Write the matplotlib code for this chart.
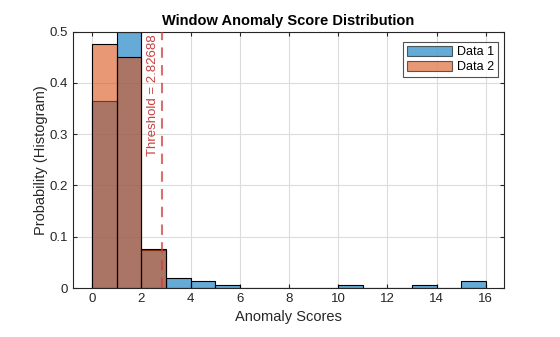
import numpy as np
import matplotlib
matplotlib.use("Agg")
import matplotlib.pyplot as plt

plt.rcParams['font.family'] = ['Liberation Sans', 'DejaVu Sans']

# bin edges (width 1) and probabilities
bin_left = [0, 1, 2, 3, 4, 5, 6, 7, 8, 9, 10, 11, 12, 13, 14, 15]
data1 = [0.365, 0.50, 0.075, 0.019, 0.013, 0.0065, 0, 0, 0, 0, 0.0065, 0, 0, 0.0065, 0, 0.013]
data2 = [0.475, 0.45, 0.076, 0, 0, 0, 0, 0, 0, 0, 0, 0, 0, 0, 0, 0]
threshold = 2.82688

blue = (0, 0.447, 0.741)
orange = (0.85, 0.325, 0.098)

fig = plt.figure(figsize=(5.6, 3.37), dpi=100)
ax = fig.add_axes([0.1304, 0.1454, 0.7696, 0.7606])

ax.bar(bin_left, data1, width=1, align='edge', color=blue, alpha=0.6,
       edgecolor='none', label='Data 1', zorder=2)
ax.bar(bin_left, data1, width=1, align='edge', fill=False, edgecolor='black',
       linewidth=0.8, zorder=2)
ax.bar(bin_left[:3], data2[:3], width=1, align='edge', color=orange, alpha=0.6,
       edgecolor='none', label='Data 2', zorder=3)
ax.bar(bin_left[:3], data2[:3], width=1, align='edge', fill=False, edgecolor='black',
       linewidth=0.8, zorder=3)

ax.axvline(threshold, color=(0.8, 0.25, 0.25), linestyle=(0, (5, 3.5)), linewidth=1.5,
           alpha=0.75, zorder=4)
ax.text(threshold - 0.12, 0.495, 'Threshold = 2.82688', rotation=90, ha='right', va='top',
        color=(0.78, 0.25, 0.25), fontsize=9.5, zorder=5)

ax.set_xlim(-0.78, 16.74)
ax.set_ylim(0, 0.5)
ax.set_xticks(range(0, 17, 2))
ax.set_yticks([0, 0.1, 0.2, 0.3, 0.4, 0.5])
ax.set_yticklabels(['0', '0.1', '0.2', '0.3', '0.4', '0.5'])
ax.grid(True, color='#dcdcdc', linewidth=0.8, zorder=0)
ax.set_axisbelow(True)
ax.tick_params(direction='in', length=3, labelsize=9.5, colors='#262626', top=True, right=True,
               labeltop=False, labelright=False)
for s in ax.spines.values():
    s.set_color('#262626')
    s.set_linewidth(0.8)

ax.set_title('Window Anomaly Score Distribution', fontsize=10.5, fontweight='bold', pad=5)
ax.set_xlabel('Anomaly Scores', fontsize=10.5, color='#262626')
ax.set_ylabel('Probability (Histogram)', fontsize=10.5, color='#262626', labelpad=1)

leg = ax.legend(loc='upper right', fontsize=9, frameon=True, fancybox=False,
                edgecolor='#262626', borderpad=0.3, handlelength=3.6, handleheight=0.9,
                labelspacing=0.2, handletextpad=0.4, bbox_to_anchor=(1.0, 0.985))
leg.get_frame().set_linewidth(0.8)
for h in leg.legend_handles:
    h.set_edgecolor('black')
    h.set_linewidth(0.8)

fig.savefig('out.png', dpi=100)
